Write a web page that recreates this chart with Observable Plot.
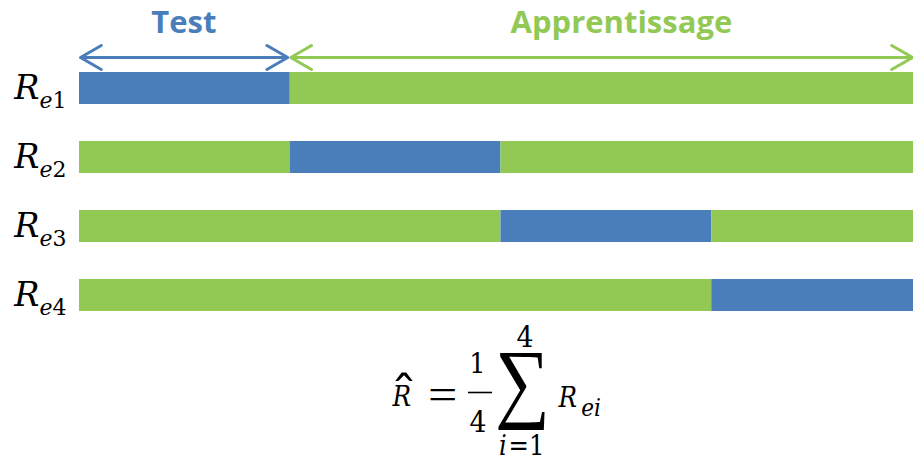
<!DOCTYPE html>
<html>
<head>
<meta charset="utf-8">
<script src="https://cdn.jsdelivr.net/npm/d3@7"></script>
<script src="https://cdn.jsdelivr.net/npm/@observablehq/plot@0.6"></script>
<style>
  html, body { margin: 0; padding: 0; background: #fff; }
  #wrap { position: relative; width: 913px; height: 459px; overflow: hidden; }
  #wrap svg { display: block; }
</style>
</head>
<body>
<div id="wrap"></div>
<script>
// ---- data ----
const rows = ["R_e1", "R_e2", "R_e3", "R_e4"];
const testFoldOfRow = [0, 1, 2, 3];
const foldEdges = [0, 1, 2, 3, 4];
const phases = ["Test", "Apprentissage"];
const phaseSpans = [[0, 1], [1, 4]];
const phaseColors = ["#4a7ebb", "#92c955"];

// ---- derived tables (contiguous folds of the same phase merged) ----
const segments = rows.flatMap((row, r) => {
  const out = [];
  for (let k = 0; k < foldEdges.length - 1; k++) {
    const phase = k === testFoldOfRow[r] ? phases[0] : phases[1];
    const last = out[out.length - 1];
    if (last && last.phase === phase) last.x2 = foldEdges[k + 1];
    else out.push({row, x1: foldEdges[k], x2: foldEdges[k + 1], phase});
  }
  return out;
});

const headers = phases.map((p, i) => ({phase: p, a: phaseSpans[i][0], b: phaseSpans[i][1], mid: (phaseSpans[i][0] + phaseSpans[i][1]) / 2}));
const halves = headers.flatMap(h => [
  {phase: h.phase, side: "start", x1: h.mid, x2: h.a},
  {phase: h.phase, side: "end", x1: h.mid, x2: h.b}
]);

// style-only tweaks
const arrowInset = {"Test start": 1, "Test end": 2.5, "Apprentissage start": 0.5, "Apprentissage end": 10};
const labelShift = {"Test": -1, "Apprentissage": 15};
const CONDENSED = "DejaVu Serif Condensed";
const SERIF = "DejaVu Serif";
const THIN = "Liberation Serif";
const stack = fam => `'${fam}', 'DejaVu Serif', serif`;

const topRow = () => rows[0];

const plot = Plot.plot({
  width: 913,
  height: 459,
  marginLeft: 79,
  marginRight: 0,
  marginTop: 0,
  marginBottom: 0,
  style: {fontFamily: "'Open Sans', sans-serif", background: "white"},
  x: {domain: [foldEdges[0], foldEdges[foldEdges.length - 1]], range: [79, 922], axis: null},
  y: {domain: rows, range: [72, 311], paddingInner: 0.536, paddingOuter: 0, round: false},
  color: {domain: phases, range: phaseColors},
  marks: [
    Plot.barX(segments, {x1: "x1", x2: "x2", y: "row", fill: "phase"}),
    ...halves.map(h => Plot.arrow([h], {
      x1: "x1", x2: "x2", y1: topRow, y2: topRow,
      stroke: "phase", strokeWidth: 3, headLength: 12, headAngle: 60,
      insetEnd: arrowInset[h.phase + " " + h.side], dy: -31
    })),
    ...headers.map(h => Plot.text([h], {
      x: "mid", y: topRow, text: "phase", fill: "phase",
      fontSize: 31, fontWeight: "bold", dy: -65, dx: labelShift[h.phase]
    })),
    Plot.axisY({tickSize: 0, tickPadding: 13, fontSize: 34, label: null, tickFormat: d => d})
  ]
});

document.getElementById("wrap").appendChild(plot);
const svg = d3.select(plot);

// ---- y tick labels as R with subscript ----
svg.selectAll('g[aria-label="y-axis tick label"] text').each(function () {
  const t = d3.select(this);
  const label = t.text();
  const [base, sub] = label.split("_");
  t.text(null).attr("dy", "0").style("font-family", stack(SERIF)).attr("fill", "#000").attr("text-anchor", "end");
  t.append("tspan").style("font-style", "italic").style("font-size", "33.5px").text(base);
  t.append("tspan").style("font-style", "italic").style("font-size", "22px").attr("dy", 9).text(sub[0]);
  t.append("tspan").style("font-style", "normal").style("font-size", "22px").text(sub.slice(1));
});

// ---- formula: each glyph group sized from its ink box ----
const ctx = document.createElement("canvas").getContext("2d");
function place(parent, text, box, {italic = false, stretch = false, family = CONDENSED} = {}) {
  const [x0, x1, y0, y1] = box;
  ctx.font = (italic ? "italic " : "") + "100px '" + family + "'";
  const m = ctx.measureText(text);
  const s = (y1 - y0) / (m.actualBoundingBoxAscent + m.actualBoundingBoxDescent);
  const sx = stretch ? (x1 - x0) / ((m.actualBoundingBoxLeft + m.actualBoundingBoxRight) * s) : 1;
  parent.append("text")
    .attr("text-anchor", "start")
    .style("font-family", stack(family))
    .style("font-style", italic ? "italic" : "normal")
    .style("font-weight", "normal")
    .style("font-size", (100 * s) + "px")
    .attr("fill", "#000")
    .attr("transform", `translate(${x0 + m.actualBoundingBoxLeft * s * sx},${y0 + m.actualBoundingBoxAscent * s}) scale(${sx},1)`)
    .text(text);
}
const n = String(rows.length);
const f = svg.append("g").attr("aria-label", "formula").attr("text-anchor", "start");
place(f, "R", [392, 413, 386, 406], {italic: true});
place(f, "\u02C6", [395, 413, 372, 381], {stretch: true});
place(f, "=", [430, 455, 389, 400], {stretch: true, family: THIN});
place(f, "1", [472, 488, 352, 373]);
f.append("line").attr("x1", 468).attr("x2", 492).attr("y1", 392.5).attr("y2", 392.5).attr("stroke", "#000").attr("stroke-width", 1.6);
place(f, n, [470, 490, 410, 432]);
place(f, "\u2211", [498, 545, 352, 430], {stretch: true, family: THIN});
place(f, n, [517, 530, 325, 347]);
place(f, "i", [500, 508, 435, 455], {italic: true});
place(f, "=1", [511, 545, 435, 455]);
place(f, "R", [558, 580, 387, 407], {italic: true});
place(f, "ei", [582, 605, 398, 416], {italic: true});
</script>
</body>
</html>
